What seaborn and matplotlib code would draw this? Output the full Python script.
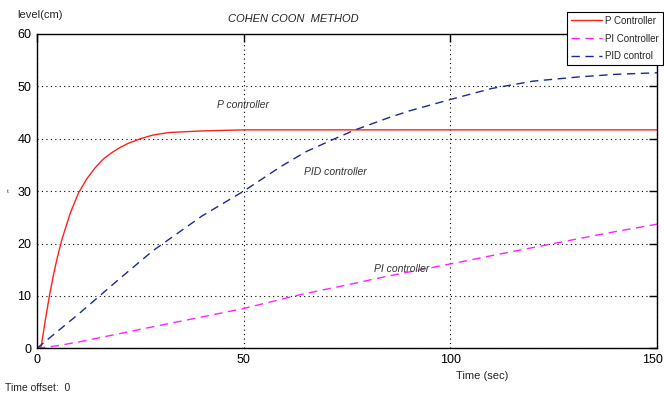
import numpy as np
import pandas as pd
import matplotlib
matplotlib.use("Agg")
import matplotlib.pyplot as plt
import matplotlib.transforms as mtransforms
import seaborn as sns

# values (time in sec, level in cm)
t_p = [0, 1, 2, 3, 4, 5, 6, 8, 10, 12, 14, 16, 18, 20, 22, 25, 28, 32, 40, 50, 75, 100, 125, 150]
level_p = [0, 0.3, 5.3, 10.0, 14.1, 17.6, 20.7, 25.7, 29.6, 32.3, 34.4, 36.1, 37.3, 38.3, 39.1,
           40.0, 40.7, 41.2, 41.5, 41.7, 41.7, 41.7, 41.7, 41.7]

t_pi = [0, 5, 10, 20, 28, 40, 50, 64, 75, 85, 100, 112, 125, 138, 150]
level_pi = [0, 0.5, 1.2, 2.8, 4.1, 6.0, 7.6, 10.3, 12.1, 13.8, 16.1, 18.0, 20.0, 22.0, 23.7]

t_pid = [0, 10, 20, 28, 40, 50, 59, 65, 72, 77, 85, 90, 100, 110, 120, 131, 140, 150]
level_pid = [0, 6.5, 13.3, 18.6, 25.3, 30.0, 34.7, 37.5, 40.0, 41.7, 44.0, 45.3, 47.5, 49.6,
             51.0, 51.8, 52.3, 52.6]

series_names = ["P Controller", "PI Controller", "PID control"]
annotations = ["P controller", "PID controller", "PI controller"]
annot_x = [43.5, 64.5, 81.5]
annot_y = [46.5, 33.7, 15.2]

sns.set_style("white")
plt.rcParams['font.family'] = ['Liberation Sans', 'DejaVu Sans']

fig = plt.figure(figsize=(6.64, 3.94), dpi=100)
ax = fig.add_axes([37 / 664, 1 - 348.3 / 394, 620 / 664, 314.3 / 394])

sns.lineplot(x=t_p, y=level_p, ax=ax, color="#ff2020", linewidth=1.0, label=series_names[0])
sns.lineplot(x=t_pi, y=level_pi, ax=ax, color="#ff20ff", linewidth=1.0, label=series_names[1],
             linestyle=(0, (6, 4)))
sns.lineplot(x=t_pid, y=level_pid, ax=ax, color="#1a2a90", linewidth=1.0, label=series_names[2],
             linestyle=(0, (6, 4)))

ax.set_xlim(0, 150)
ax.set_ylim(0, 60)
ax.set_xticks([0, 50, 100, 150])
ax.set_yticks([0, 10, 20, 30, 40, 50, 60])
ax.grid(True, color="black", linestyle=(0, (1, 3)), linewidth=0.8)
ax.tick_params(direction="in", length=6, width=1, top=True, right=True, labelsize=9,
               colors="black", pad=4)
for s in ax.spines.values():
    s.set_color("black")
    s.set_linewidth(1.0)
ax.set_xlabel("")
ax.set_ylabel("")

# keep the last x tick label inside the figure edge
fig.canvas.draw()
last = ax.get_xticklabels()[-1]
last.set_transform(last.get_transform() + mtransforms.ScaledTranslation(-5 / 100, 0, fig.dpi_scale_trans))

for txt, x, y in zip(annotations, annot_x, annot_y):
    ax.text(x, y, txt, fontsize=7.5, style="italic", va="center", ha="left", color="#333333")

leg = ax.legend(loc="upper right", bbox_to_anchor=(663 / 664, 1 - 12 / 394),
                bbox_transform=fig.transFigure, fontsize=7, frameon=True, fancybox=False,
                handlelength=3.2, borderpad=0.4, labelspacing=0.8, handletextpad=0.3,
                borderaxespad=0)
leg.get_frame().set_edgecolor("black")
leg.get_frame().set_linewidth(0.8)
leg.get_frame().set_alpha(1)

fig.text(293 / 664, 1 - 19 / 394, "COHEN COON  METHOD", fontsize=8, style="italic",
         ha="center", va="center")
fig.text(17 / 664, 1 - 15 / 394, "level(cm)", fontsize=8, ha="left", va="center")
fig.text(8 / 664, 1 - 191 / 394, "t", fontsize=4.5, ha="center", va="center")
fig.text(482 / 664, 1 - 376 / 394, "Time (sec)", fontsize=8, ha="center", va="center")
fig.text(5 / 664, 1 - 388 / 394, "Time offset:  0", fontsize=7.5, ha="left", va="center")

fig.savefig("out.png", dpi=100)
